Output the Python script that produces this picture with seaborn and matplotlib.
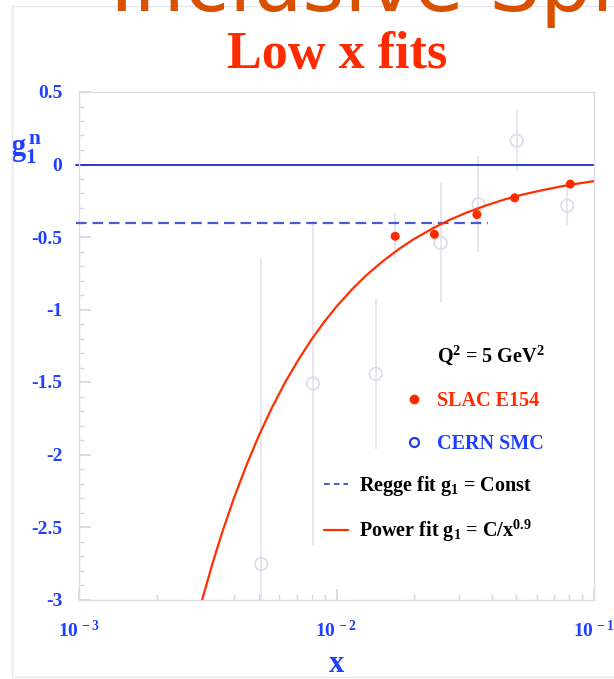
import matplotlib
matplotlib.use("Agg")
import matplotlib.pyplot as plt
import seaborn as sns
from matplotlib.lines import Line2D
from matplotlib.patches import Rectangle
from matplotlib.ticker import FixedLocator, FixedFormatter, LogLocator, NullFormatter, MultipleLocator

# SLAC E154 neutron g1
slac_x = [0.0169, 0.0240, 0.0351, 0.0492, 0.0809]
slac_g1 = [-0.495, -0.481, -0.345, -0.230, -0.135]
slac_err = [0.16, 0.08, 0.06, 0.04, 0.03]

# CERN SMC neutron g1
smc_x = [0.0051, 0.0081, 0.0142, 0.0254, 0.0356, 0.0501, 0.0787]
smc_g1 = [-2.755, -1.51, -1.445, -0.541, -0.274, 0.164, -0.284]
smc_err = [2.10, 1.12, 0.52, 0.41, 0.33, 0.21, 0.14]

# fitted curves, as drawn
power_x = [0.00301, 0.0033, 0.0036, 0.0040, 0.0045, 0.0050, 0.0056, 0.0063, 0.0071,
           0.0080, 0.0090, 0.0100, 0.0115, 0.0130, 0.0150, 0.0175, 0.0200, 0.0235,
           0.0275, 0.0320, 0.0380, 0.0450, 0.0530, 0.0630, 0.0750, 0.0870, 0.1009]
power_g1 = [-3.0, -2.751, -2.536, -2.299, -2.061, -1.868, -1.681, -1.506, -1.349,
            -1.206, -1.081, -0.980, -0.860, -0.767, -0.672, -0.582, -0.514, -0.443,
            -0.382, -0.332, -0.283, -0.241, -0.207, -0.177, -0.150, -0.131, -0.114]
regge_x = [0.00097, 0.0387]
regge_g1 = [-0.403, -0.403]

y_ticks = [0.5, 0, -0.5, -1, -1.5, -2, -2.5, -3]
y_labels = ["0.5", "0", "-0.5", "-1", "-1.5", "-2", "-2.5", "-3"]
x_ticks = [1e-3, 1e-2, 1e-1]
x_labels = [r"$\mathbf{10^{\,-3}}$", r"$\mathbf{10^{\,-2}}$", r"$\mathbf{10^{\,-1}}$"]

BLUE = "#2040ff"
RED = "#ff2a00"
FAINT = "#e2e2ec"

sns.set_theme(style="white")
plt.rcParams["font.family"] = ["Liberation Serif", "DejaVu Serif"]
plt.rcParams["font.weight"] = "bold"
plt.rcParams["mathtext.fontset"] = "custom"
plt.rcParams["mathtext.rm"] = "Liberation Serif:bold"
plt.rcParams["mathtext.it"] = "Liberation Serif:bold"
plt.rcParams["mathtext.bf"] = "Liberation Serif:bold"
plt.rcParams["axes.unicode_minus"] = False

fig = plt.figure(figsize=(6.14, 6.79), dpi=100)
ax = fig.add_axes([79 / 614, 1 - 599.5 / 679, 515 / 614, 507.5 / 679])

# slide frame and slide heading peeking in at the top
fig.patches.append(Rectangle((12 / 614, 2 / 679), 1.2, 1 - 8 / 679, transform=fig.transFigure,
                             fill=False, edgecolor="#e6e6ee", lw=1))
fig.text(110 / 614, 1 - 11 / 679, "Inclusive Spin", family="DejaVu Sans", fontweight="normal",
         fontsize=58, color="#d85000", ha="left", va="baseline")
fig.text(337.5 / 614, 1 - 68 / 679, "Low x fits", fontsize=37.5, color=RED,
         ha="center", va="baseline")

ax.axhline(0, color="#1a2cc8", lw=1.3, xmin=-0.005, clip_on=False, zorder=2)

ax.errorbar(smc_x, smc_g1, yerr=smc_err, fmt="none", ecolor=FAINT, elinewidth=1.2, zorder=1)
ax.errorbar(slac_x, slac_g1, yerr=slac_err, fmt="none", ecolor=FAINT, elinewidth=1.2, zorder=1)
sns.scatterplot(x=smc_x, y=smc_g1, ax=ax, s=80, facecolor="none", edgecolor="#dcdcea",
                linewidth=1.2, zorder=3)

sns.lineplot(x=regge_x, y=regge_g1, ax=ax, color="#4a5cd4", lw=1.6, dashes=(4.8, 2.6),
             estimator=None, sort=False, zorder=4)
ax.lines[-1].set_clip_on(False)
sns.lineplot(x=power_x, y=power_g1, ax=ax, color="#ff3000", lw=1.6,
             estimator=None, sort=False, zorder=4)

sns.scatterplot(x=slac_x, y=slac_g1, ax=ax, s=42, color="#ff2a00", edgecolor="none", zorder=5)

ax.set_xscale("log")
ax.set_xlim(1e-3, 1e-1)
ax.set_ylim(-3, 0.5)

ax.xaxis.set_major_locator(FixedLocator(x_ticks))
ax.xaxis.set_major_formatter(FixedFormatter(x_labels))
ax.xaxis.set_minor_locator(LogLocator(base=10, subs=range(2, 10)))
ax.xaxis.set_minor_formatter(NullFormatter())
ax.yaxis.set_major_locator(FixedLocator(y_ticks))
ax.yaxis.set_major_formatter(FixedFormatter(y_labels))
ax.yaxis.set_minor_locator(MultipleLocator(0.1))

for s in ax.spines.values():
    s.set_color("#dcdce6")
    s.set_linewidth(1.0)

ax.tick_params(axis="both", which="both", direction="in", colors="#d6d6e2",
               labelcolor=BLUE, labelsize=14)
ax.tick_params(axis="y", which="major", length=8.6, pad=12, left=True)
ax.tick_params(axis="y", which="minor", length=3.6, left=True)
ax.tick_params(axis="x", which="major", length=8, pad=15, bottom=True)
ax.tick_params(axis="x", which="minor", length=4.3, bottom=True)

ax.set_xlabel("x", fontsize=22, fontweight="bold", color=BLUE, va="bottom")
ax.xaxis.set_label_coords(0.5, -(678.5 - 599.5) / 507.5)
ax.set_ylabel(r"$\mathbf{g_1^{\,n}}$", fontsize=22, color=BLUE, rotation=0, ha="center", va="center")
ax.yaxis.set_label_coords(-0.103, 0.886)

# key
fig.text(437 / 614, 1 - 355 / 679, r"Q$^{2}$ = 5 GeV$^{2}$", fontsize=14.5, color="black",
         ha="left", va="center")
pts = [Line2D([], [], ls="none", marker="o", ms=6, color="#ff2a00", mec="#ff2a00"),
       Line2D([], [], ls="none", marker="o", ms=6.5, mfc="none", mec="#2040e8", mew=1.6)]
leg1 = fig.legend(pts, ["SLAC E154", "CERN SMC"], loc="upper left",
                  bbox_to_anchor=(404 / 614, 1 - 391 / 679), frameon=False, fontsize=14.5,
                  handlelength=1.0, handletextpad=0.65, labelspacing=1.12, borderpad=0,
                  borderaxespad=0, labelcolor=[RED, "#2040ff"])
fits = [Line2D([], [], color="#4a5cd4", lw=1.4, dashes=(3, 2)),
        Line2D([], [], color="#ff3000", lw=1.6)]
leg2 = fig.legend(fits, [r"Regge fit g$_{1}$ = Const", r"Power fit g$_{1}$ = C/x$^{0.9}$"],
                  loc="upper left", bbox_to_anchor=(324 / 614, 1 - 474 / 679), frameon=False,
                  fontsize=14.5, handlelength=1.2, handletextpad=0.55, labelspacing=1.0,
                  borderpad=0, borderaxespad=0, labelcolor="black")

fig.savefig("out.png", dpi=100)
